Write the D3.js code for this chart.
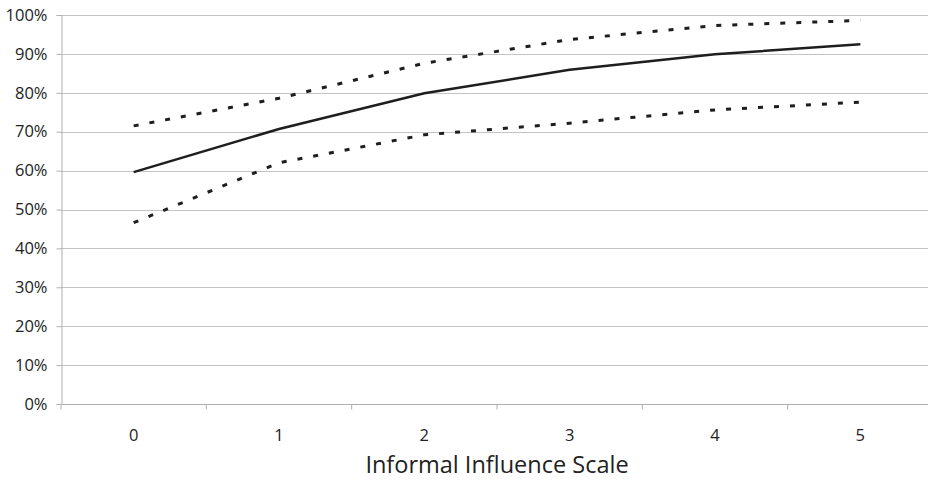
<!DOCTYPE html>
<html>
<head>
<meta charset="utf-8">
<script src="https://cdn.jsdelivr.net/npm/d3@7"></script>
<style>
	body { margin: 0; background: #fff; }
	text { font-family: "Open Sans", sans-serif; fill: #222; }
</style>
</head>
<body>
<script>
(function () {

	var categories = [ "0", "1", "2", "3", "4", "5" ],
		estimate = [ 0.596, 0.707, 0.799, 0.859, 0.899, 0.925 ],
		upperBound = [ 0.715, 0.786, 0.876, 0.937, 0.973, 0.986 ],
		lowerBound = [ 0.466, 0.620, 0.692, 0.722, 0.756, 0.776 ],
		yTicks = [ 0, 0.1, 0.2, 0.3, 0.4, 0.5, 0.6, 0.7, 0.8, 0.9, 1 ],
		xTitle = "Informal Influence Scale",
		w = 928,
		h = 480;

	var svg = d3.select("body")
		.append("svg")
		.attr("width", w)
		.attr("height", h);

	var x = d3.scaleBand()
		.domain(categories)
		.range([61, 933]);

	var y = d3.scaleLinear()
		.domain([0, 1])
		.range([404, 15]);

	// horizontal gridlines
	svg.append("g")
		.selectAll("line")
		.data(yTicks.slice(1))
		.enter()
		.append("line")
		.attr("x1", 61)
		.attr("x2", w)
		.attr("y1", function (d) { return Math.round(y(d)) + 0.5; })
		.attr("y2", function (d) { return Math.round(y(d)) + 0.5; })
		.attr("stroke", "#c4c4c4")
		.attr("stroke-width", 1);

	// y axis
	var yAxis = svg.append("g")
		.attr("transform", "translate(61.5,0)")
		.call(d3.axisLeft(y)
			.tickValues(yTicks)
			.tickSize(5)
			.tickPadding(9)
			.tickFormat(d3.format(".0%")));

	// x axis (ticks between categories)
	var xAxis = svg.append("g")
		.attr("transform", "translate(0," + (Math.round(y(0)) + 0.5) + ")")
		.call(d3.axisBottom(x).tickSize(0).tickPadding(25));

	xAxis.selectAll(".tick")
		.append("line")
		.attr("x1", -x.bandwidth() / 2)
		.attr("x2", -x.bandwidth() / 2)
		.attr("y1", 0)
		.attr("y2", 5)
		.attr("stroke", "#b0b0b0");

	[yAxis, xAxis].forEach(function (a) {
		a.select(".domain").attr("stroke", "#b0b0b0");
		a.selectAll(".tick line").attr("stroke", "#b0b0b0");
		a.selectAll("text")
			.style("font-family", "'Open Sans', sans-serif")
			.style("font-size", "16.5px")
			.attr("fill", "#222");
	});
	xAxis.select(".domain").attr("d", "M61," + 0 + "H" + w);

	svg.append("text")
		.attr("x", (61 + 933) / 2)
		.attr("y", 473)
		.attr("text-anchor", "middle")
		.style("font-size", "23.5px")
		.text(xTitle);

	var line = d3.line()
		.x(function (d, i) { return x(categories[i]) + x.bandwidth() / 2; })
		.y(function (d) { return y(d); });

	svg.append("path")
		.datum(upperBound)
		.attr("d", line)
		.attr("fill", "none")
		.attr("stroke", "#1e1e1e")
		.attr("stroke-width", 3)
		.attr("stroke-dasharray", "5,11");

	svg.append("path")
		.datum(lowerBound)
		.attr("d", line)
		.attr("fill", "none")
		.attr("stroke", "#1e1e1e")
		.attr("stroke-width", 3)
		.attr("stroke-dasharray", "5,11");

	svg.append("path")
		.datum(estimate)
		.attr("d", line)
		.attr("fill", "none")
		.attr("stroke", "#1e1e1e")
		.attr("stroke-width", 2.5);

}());
</script>
</body>
</html>
